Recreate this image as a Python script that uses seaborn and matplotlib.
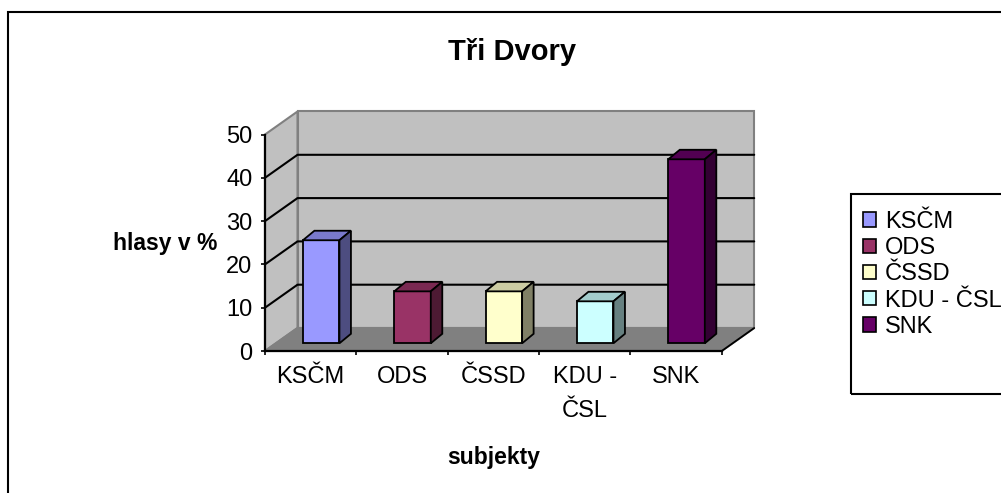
import numpy as np
import pandas as pd
import seaborn as sns
import matplotlib.pyplot as plt
from matplotlib.patches import Polygon, Rectangle, Patch
from matplotlib.colors import to_rgb

# data
strany = ['KSČM', 'ODS', 'ČSSD', 'KDU - ČSL', 'SNK']
popisky = ['KSČM', 'ODS', 'ČSSD', 'KDU -\nČSL', 'SNK']
hlasy = [23.8, 12.0, 12.0, 9.7, 42.5]
barvy = ['#9999FF', '#993366', '#FFFFCC', '#CCFFFF', '#660066']
y_ticks = [0, 10, 20, 30, 40, 50]

sns.set_theme(style='white')
plt.rcParams['font.family'] = ['Liberation Sans', 'DejaVu Sans']
plt.rcParams['text.color'] = 'black'
plt.rcParams['axes.labelcolor'] = 'black'
plt.rcParams['xtick.color'] = 'black'
plt.rcParams['ytick.color'] = 'black'

W, H = 1001, 493
fig = plt.figure(figsize=(W / 100, H / 100), dpi=100)
fig.patch.set_facecolor('white')

# front plane of the 3D box (pixels)
left, right, base, top = 265, 721.7, 351, 134.5
ax = fig.add_axes([left / W, (H - base) / H, (right - left) / W, (base - top) / H])
ax.patch.set_visible(False)

df = pd.DataFrame({'strana': strany, 'hlasy': hlasy})
sns.barplot(data=df, x='strana', y='hlasy', hue='strana', palette=barvy,
            width=0.4, edgecolor='black', linewidth=1.3, saturation=1,
            legend=False, ax=ax, zorder=3)
ax.set_xlim(-0.5, 4.5)
ax.set_ylim(0, 50)

# px -> data units
sx = (right - left) / 5
sy = (base - top) / 50
back_dx, back_dy = 32.5 / sx, 23 / sy     # depth of the walls
bar_dx, bar_dy = 10.5 / sx, 7.7 / sy      # front face of columns
dep_dx, dep_dy = 11.5 / sx, 9.5 / sy      # column depth

x0, x1, y0, y1 = -0.5, 4.5, 0, 50
wall_ec = '#808080'
# back wall
ax.add_patch(Polygon([(x0 + back_dx, y0 + back_dy), (x1 + back_dx, y0 + back_dy),
                      (x1 + back_dx, y1 + back_dy), (x0 + back_dx, y1 + back_dy)],
                     fc='#C0C0C0', ec=wall_ec, lw=1.5, zorder=0.5, clip_on=False))
# left wall
ax.add_patch(Polygon([(x0, y0), (x0 + back_dx, y0 + back_dy),
                      (x0 + back_dx, y1 + back_dy), (x0, y1)],
                     fc='#C0C0C0', ec=wall_ec, lw=1.5, zorder=0.5, clip_on=False))
# floor
ax.add_patch(Polygon([(x0, y0), (x1, y0), (x1 + back_dx, y0 + back_dy),
                      (x0 + back_dx, y0 + back_dy)],
                     fc='#808080', ec=wall_ec, lw=1.5, zorder=0.6, clip_on=False))
ax.plot([x1, x1 + back_dx], [y0, y0 + back_dy], color='black', lw=1.3,
        zorder=0.7, clip_on=False)

# gridlines on walls
for v in y_ticks[1:-1]:
    ax.plot([x0, x0 + back_dx, x1 + back_dx], [v, v + back_dy, v + back_dy],
            color='black', lw=1.5, zorder=0.8, clip_on=False)

# 3D columns
bars = [b for b in ax.patches if isinstance(b, Rectangle)]
for p, c in zip(bars, barvy):
    p.set_x(p.get_x() + bar_dx)
    p.set_y(p.get_y() + bar_dy)
    p.set_clip_on(False)
    bx, by, bw, bh = p.get_x(), p.get_y(), p.get_width(), p.get_height()
    rgb = np.array(to_rgb(c))
    ax.add_patch(Polygon([(bx, by + bh), (bx + bw, by + bh),
                          (bx + bw + dep_dx, by + bh + dep_dy),
                          (bx + dep_dx, by + bh + dep_dy)],
                         fc=rgb * 0.8, ec='black', lw=1.3, zorder=3, clip_on=False))
    ax.add_patch(Polygon([(bx + bw, by), (bx + bw + dep_dx, by + dep_dy),
                          (bx + bw + dep_dx, by + bh + dep_dy), (bx + bw, by + bh)],
                         fc=rgb * 0.5, ec='black', lw=1.3, zorder=3, clip_on=False))

# axes
for s in ['top', 'right']:
    ax.spines[s].set_visible(False)
for s in ['left', 'bottom']:
    ax.spines[s].set_color('black')
    ax.spines[s].set_linewidth(1.6)
    ax.spines[s].set_zorder(4)
ax.set_yticks(y_ticks)
ax.tick_params(axis='y', direction='out', length=3, width=1.2, color='black',
               labelsize=17, pad=6, left=True)
ax.set_xticks(np.arange(-0.5, 5, 1))
ax.set_xticklabels([])
ax.set_xticks(range(len(strany)), minor=True)
ax.set_xticklabels(popisky, minor=True, fontsize=17, linespacing=1.7)
ax.tick_params(axis='x', which='major', direction='out', length=3, width=1.2,
               color='black', bottom=True)
ax.tick_params(axis='x', which='minor', length=0, pad=11, bottom=True)

ax.set_ylabel('hlasy v %', rotation=0, fontsize=16.5, fontweight='bold',
              ha='right', va='center')
ax.yaxis.set_label_coords(-0.105, 0.495)
ax.set_xlabel('subjekty', fontsize=16.5, fontweight='bold', va='center')
ax.xaxis.set_label_coords(0.5, -0.49)

fig.text(512 / W, 1 - 52 / H, 'Tři Dvory', fontsize=21, fontweight='bold',
         ha='center', va='center')

# legend (frame drawn separately, it is taller than the entries)
handles = [Patch(facecolor=c, edgecolor='black', linewidth=1.2) for c in barvy]
leg = fig.legend(handles, strany, loc='upper left',
                 bbox_to_anchor=(851 / W, 1 - 199 / H), fontsize=17,
                 frameon=False, borderaxespad=0, borderpad=0.5,
                 handlelength=0.55, handleheight=0.55, handletextpad=0.4,
                 labelspacing=0.18)
fig.add_artist(Rectangle((851 / W, 1 - 394 / H), 0.3, 200 / H,
                         transform=fig.transFigure, fill=False,
                         ec='black', lw=1.5))

# chart area border
fig.add_artist(Rectangle((8 / W, -0.1), 1.2, 1 - 12 / H + 0.1,
                         transform=fig.transFigure, fill=False,
                         ec='black', lw=1.5))

fig.savefig('out.png', dpi=100)
